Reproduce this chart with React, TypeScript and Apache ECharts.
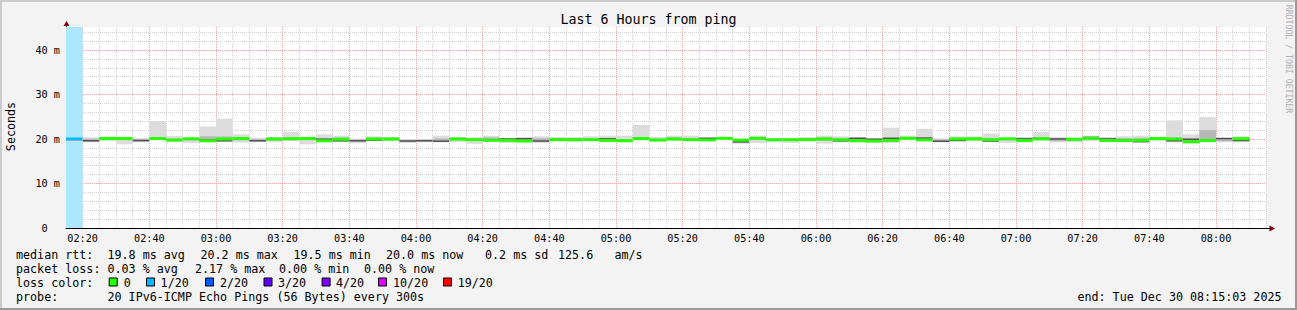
import { useEffect, useRef } from 'react';
import * as echarts from 'echarts';

// ---------- data ----------
const binTimes = (
  '02:15 02:20 02:25 02:30 02:35 02:40 02:45 02:50 02:55 ' +
  '03:00 03:05 03:10 03:15 03:20 03:25 03:30 03:35 03:40 03:45 03:50 03:55 ' +
  '04:00 04:05 04:10 04:15 04:20 04:25 04:30 04:35 04:40 04:45 04:50 04:55 ' +
  '05:00 05:05 05:10 05:15 05:20 05:25 05:30 05:35 05:40 05:45 05:50 05:55 ' +
  '06:00 06:05 06:10 06:15 06:20 06:25 06:30 06:35 06:40 06:45 06:50 06:55 ' +
  '07:00 07:05 07:10 07:15 07:20 07:25 07:30 07:35 07:40 07:45 07:50 07:55 ' +
  '08:00 08:05'
).split(' ');
const stepMin = 5;

// pings lost out of 20 per bin
const lossPings = [
  1, 0, 0, 0, 0, 0, 0, 0, 0, 0,
  0, 0, 0, 0, 0, 0, 0, 0, 0, 0,
  0, 0, 0, 0, 0, 0, 0, 0, 0, 0,
  0, 0, 0, 0, 0, 0, 0, 0, 0, 0,
  0, 0, 0, 0, 0, 0, 0, 0, 0, 0,
  0, 0, 0, 0, 0, 0, 0, 0, 0, 0,
  0, 0, 0, 0, 0, 0, 0, 0, 0, 0,
  0,
];

// median rtt (ms); null where the coloured median is not visible
const medianMs = [
  20.0, null, 20.1, 20.1, null, 20.1, 19.75, 20.05, 19.6, 20.0,
  20.1, null, 20.0, 20.05, 20.1, 19.6, 19.95, null, 20.0, 20.0,
  null, null, null, 20.0, 19.85, 19.7, 19.7, 19.55, null, 19.85,
  19.85, 19.85, 19.7, 19.6, 20.1, 19.75, 20.0, 19.85, 19.8, 20.15,
  19.75, 20.15, 19.85, 19.85, 19.85, 20.0, 19.85, 19.6, 19.55, 19.7,
  20.15, 19.8, null, 20.0, 20.05, 19.85, 20.05, 19.65, 20.05, null,
  19.95, 20.15, 19.65, 19.65, 19.7, 20.1, 20.0, 19.4, 19.65, null,
  20.05,
];

// darkest smoke line (ms)
const darkMs = [
  null, 19.6, null, null, 19.65, null, null, null, 19.8, 19.6,
  null, 19.6, null, null, null, 19.95, 19.6, 19.6, 19.75, null,
  19.55, 19.6, 19.5, null, null, null, 20.0, 20.05, 19.55, null,
  null, null, 20.05, null, null, null, null, null, 20.15, null,
  19.35, null, null, null, null, null, 19.6, 20.15, 19.95, 20.15,
  null, 20.2, 19.5, 19.65, null, 19.55, null, 20.0, 20.1, 20.0,
  null, 20.35, 20.0, null, 19.4, null, 19.6, 19.95, null, 20.1,
  19.65,
];

// outer smoke (min / max ping, ms)
const smokeLo = [
  19.35, 19.25, 19.55, 18.8, 19.25, 19.75, 19.4, 19.1, 19.3, 19.4,
  19.2, 19.3, 19.3, 19.5, 18.8, 19.3, 19.4, 19.05, 19.5, 19.5,
  19.1, 19.25, 19.25, 19.3, 18.9, 19.5, 19.1, 19.3, 19.1, 19.55,
  19.3, 19.55, 19.25, 19.3, 19.7, 19.55, 19.55, 19.55, 19.55, 20.05,
  18.95, 19.1, 19.25, 19.1, 19.55, 18.95, 19.25, 19.25, 19.1, 19.1,
  20.05, 19.55, 19.25, 19.55, 19.45, 19.4, 19.1, 19.2, 19.6, 19.25,
  19.25, 19.55, 19.55, 19.55, 19.25, 19.55, 19.25, 18.95, 19.3, 19.25,
  19.25,
];
const smokeHi = [
  20.15, 20.4, 20.55, 20.2, 20.2, 24.05, 20.7, 20.2, 22.8, 24.6,
  21.05, 20.3, 20.45, 21.65, 20.2, 21.05, 20.75, 20.1, 20.6, 20.45,
  19.95, 20.0, 20.75, 20.45, 20.4, 20.7, 20.15, 20.45, 20.6, 20.45,
  20.45, 20.6, 20.75, 20.75, 23.2, 20.45, 20.75, 20.75, 20.45, 20.25,
  20.0, 20.75, 20.1, 20.1, 20.45, 20.75, 20.6, 20.45, 20.1, 22.55,
  20.75, 22.3, 20.15, 20.6, 20.6, 21.2, 20.2, 20.45, 21.6, 20.45,
  20.1, 20.75, 20.45, 20.6, 20.75, 20.45, 24.2, 21.05, 24.9, 20.3,
  20.6,
];
// denser inner smoke (ms)
const coreLo = [
  19.6, 19.45, 19.8, 19.85, 19.45, 19.95, 19.55, 19.7, 19.45, 19.5,
  19.7, 19.45, 19.65, 19.8, 19.8, 19.45, 19.5, 19.4, 19.65, 19.7,
  19.35, 19.4, 19.4, 19.7, 19.6, 19.6, 19.5, 19.45, 19.4, 19.7,
  19.65, 19.7, 19.5, 19.45, 19.95, 19.6, 19.75, 19.7, 19.65, 20.05,
  19.2, 19.8, 19.55, 19.6, 19.7, 19.6, 19.45, 19.45, 19.35, 19.4,
  20.05, 19.65, 19.4, 19.6, 19.7, 19.5, 19.7, 19.45, 19.8, 19.5,
  19.55, 19.8, 19.6, 19.6, 19.35, 19.8, 19.5, 19.2, 19.45, 19.5,
  19.55,
];
const coreHi = [
  20.05, 20.05, 20.35, 20.15, 19.95, 20.35, 20.1, 20.15, 20.6, 20.55,
  20.35, 19.95, 20.25, 20.4, 20.15, 20.15, 20.3, 19.9, 20.3, 20.25,
  19.8, 19.85, 20.1, 20.25, 20.1, 20.35, 20.1, 20.2, 20.15, 20.2,
  20.1, 20.2, 20.2, 20.0, 20.4, 20.1, 20.3, 20.2, 20.25, 20.25,
  19.9, 20.4, 20.0, 20.0, 20.2, 20.35, 20.2, 20.25, 20.05, 20.3,
  20.4, 20.35, 19.9, 20.25, 20.3, 20.2, 20.15, 20.2, 20.4, 20.2,
  20.05, 20.45, 20.15, 20.2, 20.2, 20.25, 20.3, 20.1, 22.0, 20.25,
  20.3,
];

const xTickLabels = [
  '02:20', '02:40', '03:00', '03:20', '03:40', '04:00', '04:20', '04:40', '05:00',
  '05:20', '05:40', '06:00', '06:20', '06:40', '07:00', '07:20', '07:40', '08:00',
];
const yMajorTicks = [0, 10, 20, 30, 40];
const xStart = '02:15';
const xEnd = '08:15';
const yMaxMs = 45.17;
const yMinorStep = 2;

const lossLegend = [
  { pings: 0, label: '0', color: '#26ff00' },
  { pings: 1, label: '1/20', color: '#00b8ff' },
  { pings: 2, label: '2/20', color: '#0059ff' },
  { pings: 3, label: '3/20', color: '#5e00ff' },
  { pings: 4, label: '4/20', color: '#7e00ff' },
  { pings: 10, label: '10/20', color: '#dd00ff' },
  { pings: 19, label: '19/20', color: '#ff0000' },
];

const rttStats = ['19.8 ms avg', '20.2 ms max', '19.5 ms min', '20.0 ms now', '0.2 ms sd', '125.6', 'am/s'];
const lossStats = ['0.03 % avg', '2.17 % max', '0.00 % min', '0.00 % now'];
const probeText = '20 IPv6-ICMP Echo Pings (56 Bytes) every 300s';
const endText = 'end: Tue Dec 30 08:15:03 2025';
const titleText = 'Last 6 Hours from ping';

// ---------- helpers ----------
const FONT = "'DejaVu Sans Mono', monospace";
const toMin = (s: string) => {
  const [h, m] = s.split(':').map(Number);
  return h * 60 + m;
};
const minToLabel = (v: number) => {
  const h = Math.floor(v / 60);
  const m = Math.round(v - h * 60);
  return String(h).padStart(2, '0') + ':' + String(m).padStart(2, '0');
};
const lossColor = (n: number) => {
  let c = lossLegend[0].color;
  for (const e of lossLegend) if (n >= e.pings) c = e.color;
  return c;
};
const mixWhite = (hex: string, a: number) => {
  const r = parseInt(hex.slice(1, 3), 16);
  const g = parseInt(hex.slice(3, 5), 16);
  const b = parseInt(hex.slice(5, 7), 16);
  const f = (c: number) => Math.round(255 - a * (255 - c));
  return `rgb(${f(r)},${f(g)},${f(b)})`;
};
// same half-pixel snapping ECharts applies to 1px split lines
const snap = (p: number) => {
  const d = Math.round(p * 2);
  return d % 2 !== 0 ? d / 2 : (d + 1) / 2;
};

export default function App() {
  const ref = useRef<HTMLDivElement>(null);
  useEffect(() => {
    if (!ref.current) return;
    const chart = echarts.init(ref.current, undefined, { renderer: 'svg' });

    const data = binTimes.map((t, i) => [toMin(t), toMin(t) + stepMin, smokeLo[i], smokeHi[i]]);
    const x0Min = toMin(xStart);
    const x1Min = toMin(xEnd);

    const renderItem = (params: any, api: any) => {
      const i = params.dataIndex;
      const x0 = api.value(0);
      const x1 = api.value(1);
      const children: any[] = [];
      const band = (lo: number, hi: number, fill: string) => {
        const p0 = api.coord([x0, hi]);
        const p1 = api.coord([x1, lo]);
        return {
          type: 'rect',
          shape: { x: p0[0], y: p0[1], width: p1[0] - p0[0], height: Math.max(p1[1] - p0[1], 0.5) },
          style: { fill },
        };
      };
      const line = (v: number, h: number, fill: string) => {
        const p0 = api.coord([x0, v]);
        const p1 = api.coord([x1, v]);
        return {
          type: 'rect',
          shape: { x: p0[0], y: p0[1] - h / 2, width: p1[0] - p0[0], height: h },
          style: { fill },
        };
      };
      if (lossPings[i] > 0) children.push(band(0, yMaxMs, mixWhite(lossColor(lossPings[i]), 0.33)));
      children.push(band(smokeLo[i], smokeHi[i], '#dcdcdc'));
      children.push(band(coreLo[i], coreHi[i], '#b6b6b6'));
      if (darkMs[i] != null) children.push(line(darkMs[i] as number, 1.4, '#4d4d4d'));
      if (medianMs[i] != null) children.push(line(medianMs[i] as number, 3, lossColor(lossPings[i])));
      return { type: 'group', children };
    };

    const minorGrey = '#d2d2d2';
    const majorRed = '#f1a4a4';

    // major grid lines (red dotted) drawn through the axes' scales
    const majorGrid = [
      ...xTickLabels.map((l) => ['x', toMin(l)]),
      ...yMajorTicks.filter((v) => v > 0).map((v) => ['y', v]),
    ];
    const renderMajor = (params: any, api: any) => {
      const item = majorGrid[params.dataIndex];
      const v = item[1] as number;
      if (item[0] === 'x') {
        const top = api.coord([v, yMaxMs]);
        const bot = api.coord([v, 0]);
        const x = snap(top[0]);
        return {
          type: 'line',
          shape: { x1: x, y1: top[1], x2: x, y2: bot[1] },
          style: { stroke: majorRed, lineWidth: 1, lineDash: [1, 1] },
        };
      }
      const l = api.coord([x0Min, v]);
      const r = api.coord([x1Min, v]);
      const y = snap(l[1]);
      return {
        type: 'line',
        shape: { x1: l[0], y1: y, x2: r[0], y2: y },
        style: { stroke: majorRed, lineWidth: 1, lineDash: [1, 1] },
      };
    };

    const legendX = 16;
    const valX = 107.5;
    const rowY = [255, 268.5, 282.5, 296.5];
    const txt = (text: string, x: number, y: number, extra: any = {}) => ({
      type: 'text',
      x,
      y,
      silent: true,
      style: {
        text,
        fill: '#000',
        font: `11.7px ${FONT}`,
        textVerticalAlign: 'middle',
        textAlign: 'left',
        ...extra,
      },
    });

    const rttX = [107.5, 200.5, 293.5, 386, 485, 558, 614.5];
    const lossX = [107.5, 195, 279, 364];
    const boxX = [108.7, 146, 205, 263.5, 321.6, 378, 443];
    const boxLabelX = [123.7, 160.6, 220, 278, 336, 393, 457.7];

    const graphics: any[] = [
      // frame shading
      { type: 'rect', shape: { x: 0, y: 0, width: 1297, height: 2 }, style: { fill: '#cbcbcb' }, silent: true },
      { type: 'rect', shape: { x: 0, y: 0, width: 2, height: 310 }, style: { fill: '#cbcbcb' }, silent: true },
      { type: 'rect', shape: { x: 0, y: 308, width: 1297, height: 2 }, style: { fill: '#999999' }, silent: true },
      { type: 'rect', shape: { x: 1295, y: 0, width: 2, height: 310 }, style: { fill: '#999999' }, silent: true },
      // axis extensions and arrows
      { type: 'line', shape: { x1: 66.5, y1: 27, x2: 66.5, y2: 24 }, style: { stroke: '#6b6b6b', lineWidth: 1 }, silent: true },
      { type: 'polygon', shape: { points: [[63.5, 26], [69.5, 26], [66.5, 21]] }, style: { fill: '#7f0000' }, silent: true },
      { type: 'line', shape: { x1: 1266, y1: 228.5, x2: 1270, y2: 228.5 }, style: { stroke: '#000', lineWidth: 1 }, silent: true },
      { type: 'polygon', shape: { points: [[1269.5, 225.5], [1269.5, 231.5], [1275, 228.5]] }, style: { fill: '#7f0000' }, silent: true },
      // title
      {
        type: 'text', x: 648.5, y: 19, silent: true,
        style: { text: titleText, fill: '#000', font: `13.3px ${FONT}`, textAlign: 'center', textVerticalAlign: 'middle' },
      },
      // y-axis name
      {
        type: 'text', x: 10.5, y: 126.5, rotation: Math.PI / 2, silent: true,
        style: { text: 'Seconds', fill: '#000', font: `11.7px ${FONT}`, textAlign: 'center', textVerticalAlign: 'middle' },
      },
      // watermark
      {
        type: 'text', x: 1288.5, y: 59, rotation: -Math.PI / 2, silent: true,
        style: { text: 'RRDTOOL / TOBI OETIKER', fill: '#b0b0b0', font: `8.2px ${FONT}`, textAlign: 'center', textVerticalAlign: 'middle' },
      },
      // legend rows
      txt('median rtt:', legendX, rowY[0]),
      ...rttStats.map((s, k) => txt(s, rttX[k], rowY[0])),
      txt('packet loss:', legendX, rowY[1]),
      ...lossStats.map((s, k) => txt(s, lossX[k], rowY[1])),
      txt('loss color:', legendX, rowY[2]),
      ...lossLegend.map((e, k) => ({
        type: 'rect', silent: true,
        shape: { x: boxX[k] + 0.5, y: rowY[2] - 4.5, width: 8, height: 8 },
        style: { fill: e.color, stroke: '#000', lineWidth: 1 },
      })),
      ...lossLegend.map((e, k) => txt(e.label, boxLabelX[k], rowY[2])),
      txt('probe:', legendX, rowY[3]),
      txt(probeText, valX, rowY[3]),
      txt(endText, 1281.5, rowY[3], { textAlign: 'right' }),
    ];

    chart.setOption({
      animation: false,
      backgroundColor: '#f3f3f3',
      grid: {
        left: 66, top: 27, width: 1200, bottom: 82,
        show: true, backgroundColor: '#ffffff', borderWidth: 0,
      },
      xAxis: {
        type: 'value',
        min: x0Min,
        max: x1Min,
        interval: stepMin,
        axisLine: { show: true, onZero: false, lineStyle: { color: '#000', width: 1 } },
        axisTick: { show: false },
        axisLabel: {
          show: true,
          margin: 5,
          color: '#000',
          fontFamily: FONT,
          fontSize: 10.2,
          hideOverlap: false,
          formatter: (v: number) => {
            const l = minToLabel(v);
            return xTickLabels.includes(l) ? l : '';
          },
        },
        splitLine: {
          show: true,
          showMinLine: false,
          showMaxLine: true,
          lineStyle: { color: minorGrey, type: [1, 1], width: 1 },
        },
      },
      yAxis: {
        type: 'value',
        min: 0,
        max: yMaxMs,
        interval: yMinorStep,
        axisLine: { show: true, lineStyle: { color: '#6b6b6b', width: 1 } },
        axisTick: { show: false },
        axisLabel: {
          show: true,
          margin: 6,
          color: '#000',
          fontFamily: FONT,
          fontSize: 10.2,
          formatter: (v: number) => {
            if (!yMajorTicks.includes(v)) return '';
            return v === 0 ? '0\u00a0\u00a0' : `${v} m`;
          },
        },
        splitLine: {
          show: true,
          showMinLine: false,
          showMaxLine: false,
          lineStyle: { color: minorGrey, type: [1, 1], width: 1 },
        },
      },
      series: [
        {
          type: 'custom',
          renderItem: renderMajor,
          data: majorGrid.map((_, k) => [k]),
          encode: { x: -1, y: -1 },
          silent: true,
          clip: true,
          z: 1,
        },
        {
          type: 'custom',
          renderItem,
          data,
          encode: { x: [0, 1], y: [2, 3] },
          clip: true,
          silent: true,
          z: 3,
        },
      ],
      graphic: graphics,
    });

    return () => chart.dispose();
  }, []);

  return (
    <div
      ref={ref}
      style={{ position: 'fixed', left: 0, top: 0, width: 1297, height: 310 }}
    />
  );
}
